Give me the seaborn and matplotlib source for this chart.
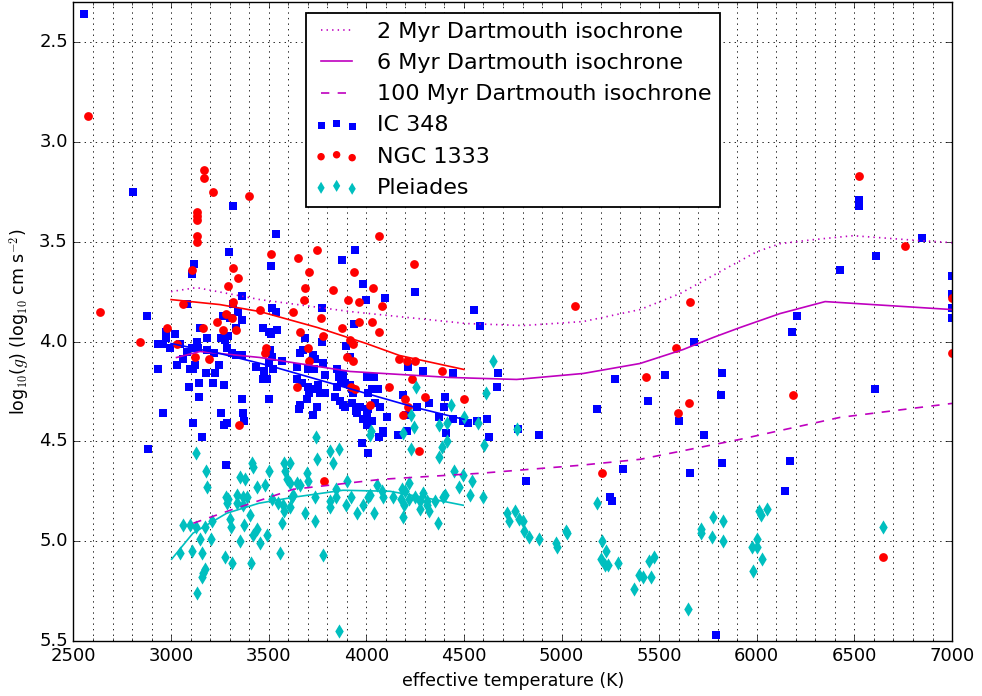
import numpy as np
import pandas as pd
import matplotlib
matplotlib.use("Agg")
import matplotlib.pyplot as plt
from matplotlib.ticker import MultipleLocator
import seaborn as sns

# ---- isochrones (effective temperature in K, log g) ----
iso2_teff = [3000, 3130, 3455, 3917, 4514, 4803, 5111, 5402, 5607, 5812, 6001, 6119, 6288, 6493, 6769, 7000]
iso2_logg = [3.75, 3.73, 3.79, 3.85, 3.91, 3.92, 3.90, 3.84, 3.76, 3.65, 3.55, 3.51, 3.49, 3.47, 3.49, 3.505]

iso6_teff = [3028, 3148, 3455, 3917, 4428, 4770, 5111, 5402, 5623, 5776, 5914, 6119, 6350, 7000]
iso6_logg = [4.08, 4.05, 4.08, 4.15, 4.18, 4.19, 4.16, 4.11, 4.04, 3.98, 3.93, 3.86, 3.80, 3.84]

iso100_teff = [3114, 3318, 3626, 4079, 4582, 5094, 5402, 5914, 6426, 7000]
iso100_logg = [4.91, 4.84, 4.74, 4.69, 4.66, 4.62, 4.59, 4.49, 4.38, 4.31]

# ---- cluster trend lines ----
fit_ngc_teff = [3000, 3250, 3455, 3750, 4000, 4170, 4500]
fit_ngc_logg = [3.79, 3.815, 3.85, 3.93, 4.01, 4.07, 4.14]

fit_ic_teff = [3000, 3250, 3500, 3750, 4000, 4250, 4500]
fit_ic_logg = [4.01, 4.06, 4.12, 4.19, 4.26, 4.33, 4.39]

fit_ple_teff = [3003, 3112, 3285, 3450, 3626, 3880, 4121, 4290, 4496]
fit_ple_logg = [5.09, 4.96, 4.86, 4.81, 4.78, 4.745, 4.75, 4.78, 4.82]

# ---- IC 348 ----
ic348_teff = [
    2554, 2805, 3317, 3537, 3296, 3117, 3107, 3511, 3875, 3941,
    3363, 3081, 3317, 2876, 3516, 3537, 3773, 3266, 3302, 3342,
    3363, 3332, 3148, 3470, 3501, 3542, 3511, 3685, 3773, 3936,
    3895, 2974, 2974, 3020, 3184, 3256, 3276, 3291, 3132, 3138,
    2933, 2959, 2994, 3046, 3081, 3107, 3184, 3220, 3286, 3312,
    3332, 3363, 3061, 3030, 3122, 3245, 2933, 3097, 3112, 3179,
    3225, 3435, 3476, 3470, 3491, 3522, 3501, 3516, 3568, 3645,
    3660, 3675, 3727, 3737, 3778, 3732, 3701, 3788, 3850, 3860,
    3880, 3645, 3671, 3701, 3727, 3753, 3763, 3788, 3850, 3870,
    3890, 3917, 3840, 3092, 3143, 3214, 3271, 3363, 3501, 3143,
    2959, 3256, 3368, 3112, 3286, 3271, 3373, 3158, 2882, 3281,
    3660, 3655, 3727, 3748, 3696, 3706, 3865, 3880, 3890, 3926,
    3952, 3968, 3993, 4003, 4029, 4009, 4044, 4070, 3978, 4009,
    4065, 4085, 4106, 3926, 4044, 3917, 3931, 3983, 3998, 4096,
    4250, 4552, 4583, 4213, 4290, 4444, 4674, 4669, 5273, 5181,
    5442, 4003, 4039, 4029, 4060, 4188, 4403, 4321, 4260, 4398,
    4009, 3946, 4372, 4444, 4496, 4521, 4567, 4618, 3983, 4003,
    4203, 4208, 4086, 4163, 4408, 4629, 4776, 4884, 4818, 5314,
    5247, 5258, 5602, 6525, 6525, 6844, 6610, 6426, 6998, 6998,
    6998, 6998, 6205, 6180, 5679, 5530, 5822, 5817, 5730, 6606,
    5822, 5658, 6170, 6145, 5791, 3506,
]
ic348_logg = [
    2.36, 3.25, 3.32, 3.46, 3.55, 3.61, 3.66, 3.62, 3.59, 3.54,
    3.77, 3.81, 3.81, 3.87, 3.83, 3.85, 3.83, 3.87, 3.88, 3.85,
    3.89, 3.93, 3.93, 3.93, 3.95, 3.94, 3.96, 3.98, 4.00, 3.91,
    4.02, 3.95, 3.98, 3.96, 3.98, 3.98, 3.99, 3.97, 4.00, 4.03,
    4.01, 4.01, 4.03, 4.01, 4.05, 4.03, 4.04, 4.06, 4.03, 4.06,
    4.07, 4.07, 4.09, 4.12, 4.12, 4.12, 4.14, 4.14, 4.14, 4.16,
    4.16, 4.13, 4.15, 4.19, 4.19, 4.14, 4.11, 4.08, 4.10, 4.13,
    4.06, 4.04, 4.07, 4.09, 4.11, 4.14, 4.14, 4.17, 4.14, 4.18,
    4.17, 4.19, 4.21, 4.23, 4.24, 4.22, 4.26, 4.26, 4.23, 4.20,
    4.21, 4.08, 4.28, 4.23, 4.21, 4.21, 4.22, 4.29, 4.29, 4.28,
    4.36, 4.36, 4.36, 4.41, 4.41, 4.42, 4.40, 4.48, 4.54, 4.62,
    4.32, 4.34, 4.37, 4.33, 4.29, 4.26, 4.30, 4.32, 4.33, 4.31,
    4.36, 4.33, 4.39, 4.37, 4.40, 4.26, 4.31, 4.33, 4.51, 4.56,
    4.48, 4.46, 4.38, 4.24, 4.24, 4.22, 4.26, 3.71, 3.79, 3.78,
    3.75, 3.84, 3.92, 4.13, 4.15, 4.16, 4.16, 4.23, 4.19, 4.34,
    4.30, 4.18, 4.18, 4.24, 4.24, 4.27, 4.28, 4.31, 4.33, 4.33,
    4.34, 4.35, 4.38, 4.39, 4.40, 4.41, 4.40, 4.39, 4.39, 4.42,
    4.37, 4.45, 4.45, 4.47, 4.46, 4.48, 4.44, 4.47, 4.70, 4.64,
    4.78, 4.80, 4.40, 3.29, 3.32, 3.48, 3.57, 3.64, 3.67, 3.76,
    3.83, 3.88, 3.87, 3.95, 4.00, 4.17, 4.16, 4.27, 4.47, 4.24,
    4.61, 4.66, 4.60, 4.75, 5.47, 4.04,
]

# ---- NGC 1333 ----
ngc1333_teff = [
    2574, 3168, 3168, 3214, 3399, 3133, 3133, 3133, 3133, 3133,
    3511, 3748, 3650, 3317, 3706, 3936, 3107, 3342, 3291, 3685,
    3829, 3317, 3681, 3906, 3061, 2636, 3455, 3624, 3281, 3312,
    3962, 3235, 3768, 3962, 3332, 3266, 3163, 2979, 3660, 3875,
    3778, 2840, 3030, 3486, 3701, 3917, 3931, 3122, 3481, 3194,
    3706, 3901, 3931, 3645, 3921, 3941, 4065, 4244, 4034, 4081,
    4029, 4065, 5068, 4168, 4208, 4250, 4388, 4234, 4116, 4198,
    4301, 4213, 4501, 4019, 4188, 5432, 4270, 5207, 5597, 3347,
    3783, 5658, 5586, 5653, 6186, 6759, 6998, 6998, 6525, 6645,
]
ngc1333_logg = [
    2.87, 3.14, 3.18, 3.25, 3.27, 3.35, 3.37, 3.39, 3.47, 3.50,
    3.56, 3.54, 3.58, 3.63, 3.65, 3.65, 3.64, 3.68, 3.72, 3.73,
    3.74, 3.80, 3.79, 3.79, 3.81, 3.85, 3.84, 3.85, 3.86, 3.88,
    3.80, 3.90, 3.88, 3.90, 3.94, 3.94, 3.93, 3.93, 3.95, 3.93,
    3.97, 4.00, 4.01, 4.03, 4.03, 3.99, 4.01, 4.08, 4.06, 4.09,
    4.10, 4.08, 4.10, 4.23, 4.23, 4.24, 3.47, 3.61, 3.73, 3.82,
    3.90, 3.95, 3.82, 4.09, 4.10, 4.10, 4.15, 4.19, 4.23, 4.29,
    4.28, 4.33, 4.29, 4.32, 4.37, 4.18, 4.55, 4.66, 4.36, 4.42,
    4.70, 3.80, 4.03, 4.31, 4.27, 3.52, 3.78, 4.06, 3.17, 5.08,
]

# ---- Pleiades ----
pleiades_teff = [
    3128, 3742, 3748, 3814, 3860, 3829, 3901, 4024, 4019, 3414,
    3419, 3179, 3353, 3378, 3501, 3578, 3609, 3583, 3696, 3701,
    3440, 3481, 3593, 3609, 3645, 3660, 3184, 3281, 3291, 3337,
    3368, 3388, 3286, 3337, 3368, 3516, 3547, 3573, 3619, 3624,
    3609, 3578, 3685, 3737, 3737, 3814, 3814, 3845, 3845, 3896,
    3921, 3952, 3983, 4009, 4019, 4039, 4055, 4080, 4085, 3302,
    3404, 3373, 3307, 3209, 3174, 3148, 3204, 3061, 3097, 3128,
    3046, 3107, 3158, 3174, 3163, 3158, 3133, 3276, 3312, 3353,
    3409, 3419, 3440, 3455, 3491, 3558, 3568, 3778, 3860, 4254,
    4613, 4434, 4229, 4413, 4501, 4573, 4373, 4244, 4188, 4771,
    4413, 4603, 4388, 4229, 4373, 4450, 4496, 4542, 4475, 4532,
    4598, 4219, 4137, 4183, 4198, 4178, 4193, 4219, 4250, 4290,
    4275, 4275, 4311, 4311, 4321, 4352, 4393, 4403, 4188, 4367,
    4721, 4731, 4762, 4782, 4803, 4808, 4833, 4884, 4971, 4976,
    5023, 5028, 5181, 5207, 5202, 5227, 5222, 5237, 5289, 5397,
    5417, 5371, 5448, 5474, 5458, 5648, 5776, 5827, 5714, 5714,
    5771, 5827, 5976, 6001, 6001, 6027, 5981, 6012, 6022, 6053,
    6645, 4650,
]
pleiades_logg = [
    4.56, 4.48, 4.59, 4.55, 4.54, 4.61, 4.70, 4.45, 4.47, 4.61,
    4.63, 4.65, 4.68, 4.69, 4.65, 4.61, 4.61, 4.65, 4.66, 4.70,
    4.73, 4.72, 4.69, 4.71, 4.71, 4.72, 4.73, 4.78, 4.79, 4.77,
    4.78, 4.78, 4.81, 4.81, 4.82, 4.79, 4.81, 4.82, 4.78, 4.77,
    4.83, 4.85, 4.86, 4.78, 4.90, 4.80, 4.83, 4.74, 4.78, 4.82,
    4.78, 4.86, 4.82, 4.78, 4.77, 4.86, 4.72, 4.75, 4.78, 4.89,
    4.87, 4.92, 4.93, 4.90, 4.93, 4.99, 4.99, 4.92, 4.92, 4.93,
    5.06, 5.05, 5.06, 5.14, 5.16, 5.18, 5.26, 5.08, 5.11, 5.00,
    5.11, 4.97, 4.94, 5.01, 4.97, 5.06, 4.91, 5.07, 5.45, 4.23,
    4.26, 4.32, 4.37, 4.41, 4.38, 4.41, 4.42, 4.43, 4.46, 4.44,
    4.50, 4.52, 4.53, 4.54, 4.58, 4.65, 4.67, 4.70, 4.73, 4.77,
    4.78, 4.71, 4.78, 4.74, 4.75, 4.79, 4.82, 4.79, 4.78, 4.76,
    4.80, 4.84, 4.80, 4.82, 4.85, 4.80, 4.78, 4.77, 4.88, 4.91,
    4.86, 4.90, 4.85, 4.89, 4.90, 4.95, 4.98, 4.99, 5.01, 5.03,
    4.95, 4.96, 4.81, 5.00, 5.09, 5.05, 5.12, 5.12, 5.11, 5.17,
    5.18, 5.24, 5.10, 5.08, 5.18, 5.34, 4.88, 4.90, 4.94, 4.96,
    4.98, 5.00, 5.03, 5.03, 4.99, 5.09, 5.15, 4.85, 4.87, 4.84,
    4.93, 4.10,
]

# ---- style ----
plt.style.use("classic")
plt.rcParams["figure.facecolor"] = "white"
plt.rcParams["savefig.facecolor"] = "white"
plt.rcParams["font.family"] = ["DejaVu Sans"]
plt.rcParams["font.size"] = 13
plt.rcParams["mathtext.fontset"] = "cm"

MAG = (0.75, 0.0, 0.75)
CYAN = (0.0, 0.75, 0.75)

fig = plt.figure(figsize=(9.82, 6.96), dpi=100)
ax = fig.add_axes([0.0748, 0.079, 0.8947, 0.918])

# cluster members
sns.scatterplot(x=ic348_teff, y=ic348_logg, marker="s", color="b", s=36,
                linewidth=0, ax=ax, label="IC 348", legend=False)
sns.scatterplot(x=ngc1333_teff, y=ngc1333_logg, marker="o", color="r", s=40,
                linewidth=0, ax=ax, label="NGC 1333", legend=False)
sns.scatterplot(x=pleiades_teff, y=pleiades_logg, marker="d", color=CYAN, s=52,
                linewidth=0, ax=ax, label="Pleiades", legend=False)

# isochrones
sns.lineplot(x=iso2_teff, y=iso2_logg, sort=False, estimator=None, color=MAG,
             linestyle=":", linewidth=1.2, ax=ax, label="2 Myr Dartmouth isochrone", legend=False)
sns.lineplot(x=iso6_teff, y=iso6_logg, sort=False, estimator=None, color=MAG,
             linestyle="-", linewidth=1.2, ax=ax, label="6 Myr Dartmouth isochrone", legend=False)
sns.lineplot(x=iso100_teff, y=iso100_logg, sort=False, estimator=None, color=MAG,
             linestyle="--", linewidth=1.2, ax=ax, label="100 Myr Dartmouth isochrone", legend=False)

# trends for each cluster
sns.lineplot(x=fit_ngc_teff, y=fit_ngc_logg, sort=False, estimator=None, color="r",
             linewidth=1.2, ax=ax, legend=False)
sns.lineplot(x=fit_ic_teff, y=fit_ic_logg, sort=False, estimator=None, color="b",
             linewidth=1.2, ax=ax, legend=False)
sns.lineplot(x=fit_ple_teff, y=fit_ple_logg, sort=False, estimator=None, color=CYAN,
             linewidth=1.2, ax=ax, legend=False)

ax.set_xlim(2500, 7000)
ax.set_ylim(5.5, 2.3)
ax.xaxis.set_major_locator(MultipleLocator(500))
ax.xaxis.set_minor_locator(MultipleLocator(100))
ax.yaxis.set_major_locator(MultipleLocator(0.5))
ax.grid(True, which="both", axis="x", color="k", linestyle=":", linewidth=0.6)
ax.grid(True, which="major", axis="y", color="k", linestyle=":", linewidth=0.6)
ax.set_axisbelow(True)
ax.tick_params(labelsize=13)

ax.set_xlabel("effective temperature (K)", fontsize=12.5)
ax.set_ylabel(r"log$_{10}$($g$) (log$_{10}$ cm s$^{-2}$)", fontsize=12.5)

handles, labels = ax.get_legend_handles_labels()
order = ["2 Myr Dartmouth isochrone", "6 Myr Dartmouth isochrone",
         "100 Myr Dartmouth isochrone", "IC 348", "NGC 1333", "Pleiades"]
hmap = dict(zip(labels, handles))
leg = ax.legend([hmap[k] for k in order], order, loc="upper center", fontsize=16,
                scatterpoints=3, numpoints=2, markerscale=0.85)
leg.get_frame().set_linewidth(1.3)

fig.savefig("out.png", dpi=100)
